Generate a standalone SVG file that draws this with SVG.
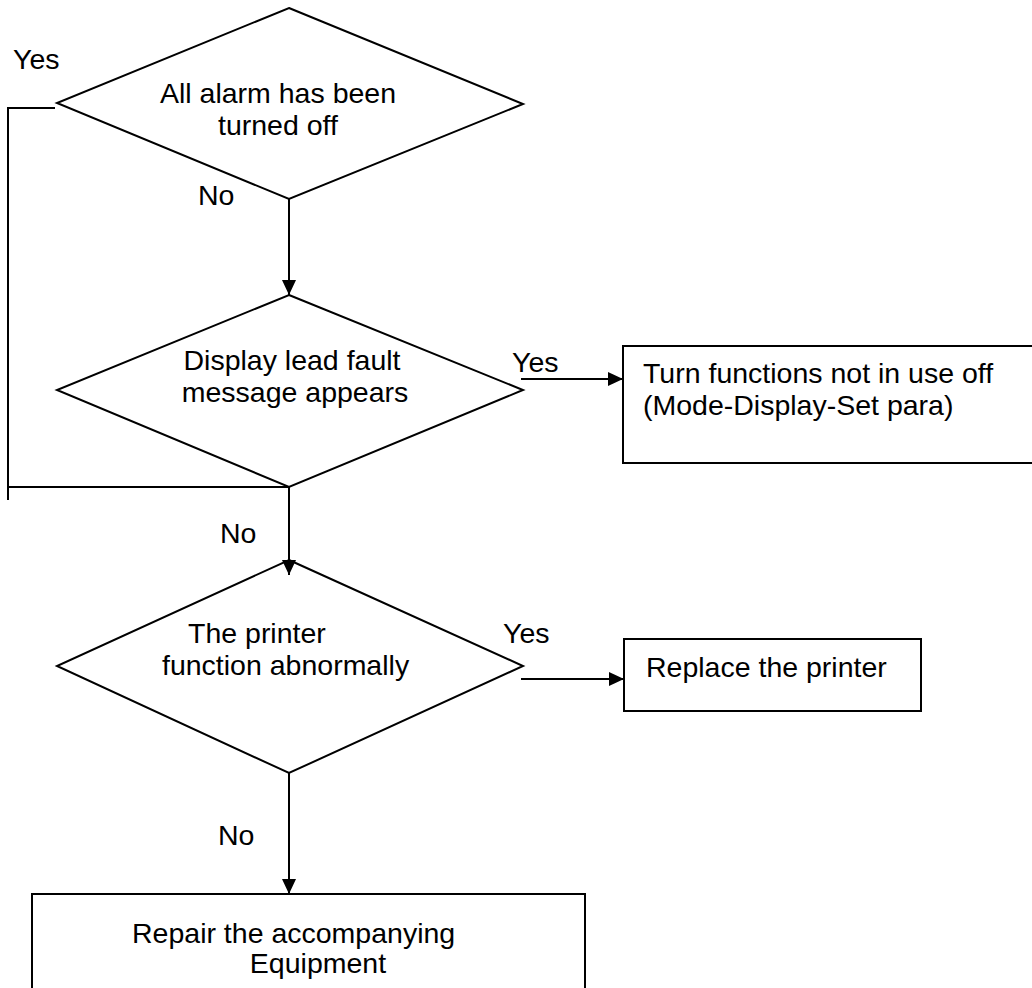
<svg xmlns="http://www.w3.org/2000/svg" width="1032" height="988" viewBox="0 0 1032 988">
<style>
.shape{fill:#fff;stroke:#000;stroke-width:2}
.line{fill:none;stroke:#000;stroke-width:2}
.arrow{fill:none;stroke:#000;stroke-width:2;marker-end:url(#ah)}
text{font-family:"Liberation Sans",Arial,sans-serif;font-size:28.5px;fill:#000}
.c{text-anchor:middle}
</style>
<defs>
<marker id="ah" markerUnits="userSpaceOnUse" markerWidth="15" markerHeight="14" refX="15" refY="7" orient="auto">
<path d="M0,0 L15,7 L0,14 z" fill="#000"/>
</marker>
</defs>
<rect width="1032" height="988" fill="#fff"/>
<g id="d1">
<polygon class="shape" points="289,8 523,104 289,199 57,103"/>
<text x="160" y="103">All alarm has been</text>
<text x="218" y="135">turned off</text>
</g>
<g id="d2">
<polygon class="shape" points="289,295 523,390 289,487 57,390"/>
<text class="c" x="292" y="370">Display lead fault</text>
<text class="c" x="295" y="402">message appears</text>
</g>
<g id="b1">
<rect class="shape" x="623" y="346" width="420" height="117"/>
<text x="643" y="383">Turn functions not in use off</text>
<text x="643" y="415">(Mode-Display-Set para)</text>
</g>
<g id="d3">
<polygon class="shape" points="289,560 523,666 289,773 57,666"/>
<text x="188" y="643">The printer</text>
<text x="162" y="675">function abnormally</text>
</g>
<g id="b2">
<rect class="shape" x="624" y="639" width="297" height="72"/>
<text x="646" y="677">Replace the printer</text>
</g>
<g id="b3">
<rect class="shape" x="32" y="894" width="553" height="110"/>
<text x="132" y="943">Repair the accompanying</text>
<text class="c" x="318" y="973">Equipment</text>
</g>
<g id="connectors">
<line class="arrow" x1="289" y1="199" x2="289" y2="295"/>
<line class="arrow" x1="521" y1="379" x2="623" y2="379"/>
<line class="arrow" x1="289" y1="487" x2="289" y2="575"/>
<line class="arrow" x1="521" y1="679" x2="624" y2="679"/>
<line class="arrow" x1="289" y1="773" x2="289" y2="894"/>
<polyline class="line" points="55,108 8,108 8,500"/>
<line class="line" x1="8" y1="487" x2="289" y2="487"/>
</g>
<g id="labels">
<text x="13" y="69">Yes</text>
<text x="198" y="205">No</text>
<text x="512" y="372">Yes</text>
<text x="220" y="543">No</text>
<text x="503" y="643">Yes</text>
<text x="218" y="845">No</text>
</g>
</svg>
